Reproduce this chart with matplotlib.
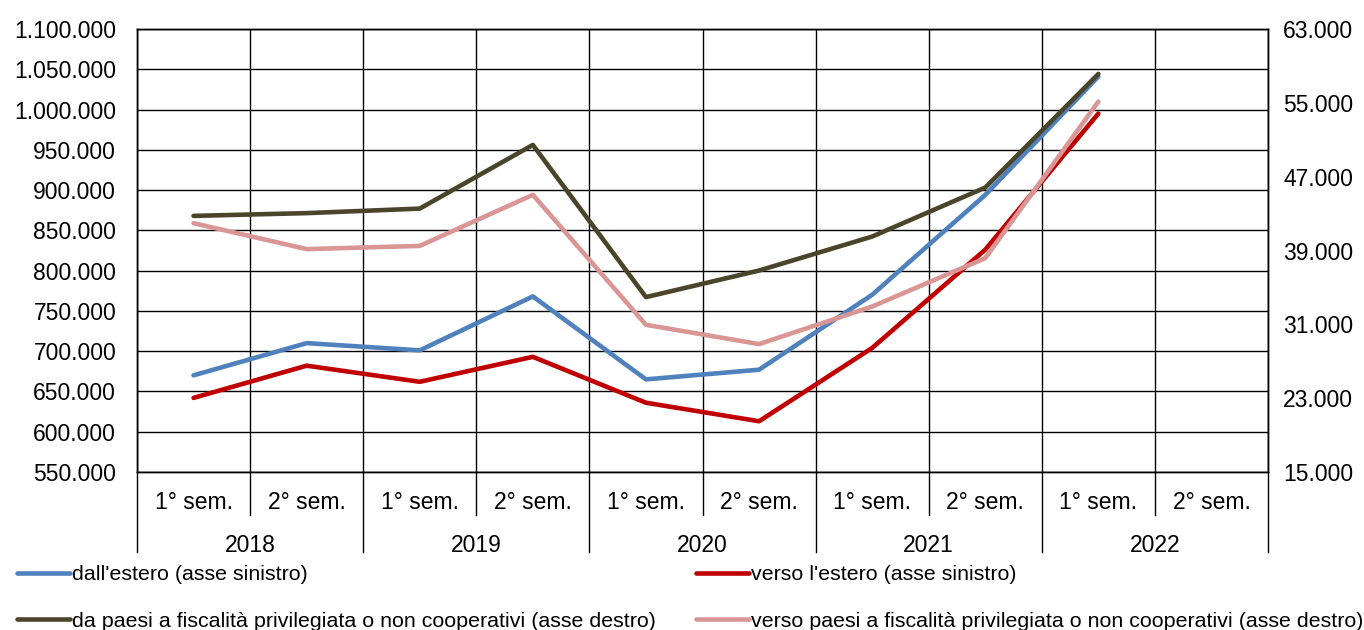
import matplotlib
matplotlib.use("Agg")
import matplotlib.pyplot as plt
from matplotlib.ticker import FuncFormatter
import numpy as np

plt.rcParams['font.family'] = ['Liberation Sans', 'DejaVu Sans']

years = ["2018", "2019", "2020", "2021", "2022"]
semesters = ["1° sem.", "2° sem."]
categories = [f"{s} {y}" for y in years for s in semesters]

dall_estero = [670000, 710000, 701000, 768000, 665000, 677000, 770000, 894000, 1041000, None]
verso_estero = [642000, 682000, 662000, 693000, 636000, 613000, 704000, 826000, 995000, None]
da_paesi = [42750, 43050, 43540, 50440, 33950, 36830, 40510, 45820, 58130, None]
verso_paesi = [41960, 39150, 39500, 45030, 30950, 28860, 32930, 38170, 55130, None]

labels = ["dall'estero (asse sinistro)", "verso l'estero (asse sinistro)",
          "da paesi a fiscalità privilegiata o non cooperativi (asse destro)",
          "verso paesi a fiscalità privilegiata o non cooperativi (asse destro)"]
colors = ["#4F81BD", "#C00000", "#4A452A", "#D99694"]

W, H = 1364, 630
fig = plt.figure(figsize=(W / 100, H / 100), dpi=100)
L, R, T, B = 137, 1268, 29, 472
ax = fig.add_axes([L / W, 1 - B / H, (R - L) / W, (B - T) / H])
ax2 = ax.twinx()

n = len(categories)
x = np.arange(n) + 0.5

def arr(v):
    return np.array([np.nan if a is None else a for a in v], dtype=float)

fs = 16.5
lw = 3.3
h1, = ax.plot(x, arr(dall_estero), color=colors[0], lw=lw, solid_capstyle='round', solid_joinstyle='round')
h2, = ax.plot(x, arr(verso_estero), color=colors[1], lw=lw, solid_capstyle='round', solid_joinstyle='round')
h3, = ax2.plot(x, arr(da_paesi), color=colors[2], lw=lw, solid_capstyle='round', solid_joinstyle='round')
h4, = ax2.plot(x, arr(verso_paesi), color=colors[3], lw=lw, solid_capstyle='round', solid_joinstyle='round')

ax.set_xlim(0, n)
ax.set_ylim(550000, 1100000)
ax.set_yticks(np.arange(550000, 1100001, 50000))
ax2.set_ylim(15000, 63000)
ax2.set_yticks(np.arange(15000, 63001, 8000))

fmt = FuncFormatter(lambda v, p: f"{int(round(v)):,}".replace(",", "."))
ax.yaxis.set_major_formatter(fmt)
ax2.yaxis.set_major_formatter(fmt)

ax.set_xticks(np.arange(n + 1))
ax.set_xticklabels([])
ax.tick_params(axis='x', length=0)
ax.tick_params(axis='y', length=0, pad=15, labelsize=fs)
ax2.tick_params(axis='y', length=0, pad=11, labelsize=fs)
ax.grid(True, color='black', lw=1.0)
ax.set_axisbelow(True)
for sp in list(ax.spines.values()) + list(ax2.spines.values()):
    sp.set_color('black')
    sp.set_linewidth(1.0)

trans = ax.get_xaxis_transform()
for i, c in enumerate(categories):
    ax.text(x[i], -0.068, semesters[i % 2], transform=trans, ha='center', va='center', fontsize=fs)
for j, y in enumerate(years):
    ax.text(2 * j + 1, -0.165, y, transform=trans, ha='center', va='center', fontsize=fs)
for k in range(n + 1):
    y_end = -0.181 if k % 2 == 0 else -0.098
    ax.plot([k, k], [0, y_end], transform=trans, color='black', lw=1.0, clip_on=False)

lfs = 15.4
fig.legend([h1, h3, h2, h4], [labels[0], labels[2], labels[1], labels[3]],
           loc='upper left', bbox_to_anchor=(17 / W, 1 - 565 / H),
           ncol=2, frameon=False, fontsize=lfs, handlelength=2.48, handletextpad=0.1,
           columnspacing=1.87, labelspacing=1.29, borderpad=0, borderaxespad=0)

fig.savefig("out.png", dpi=100)
